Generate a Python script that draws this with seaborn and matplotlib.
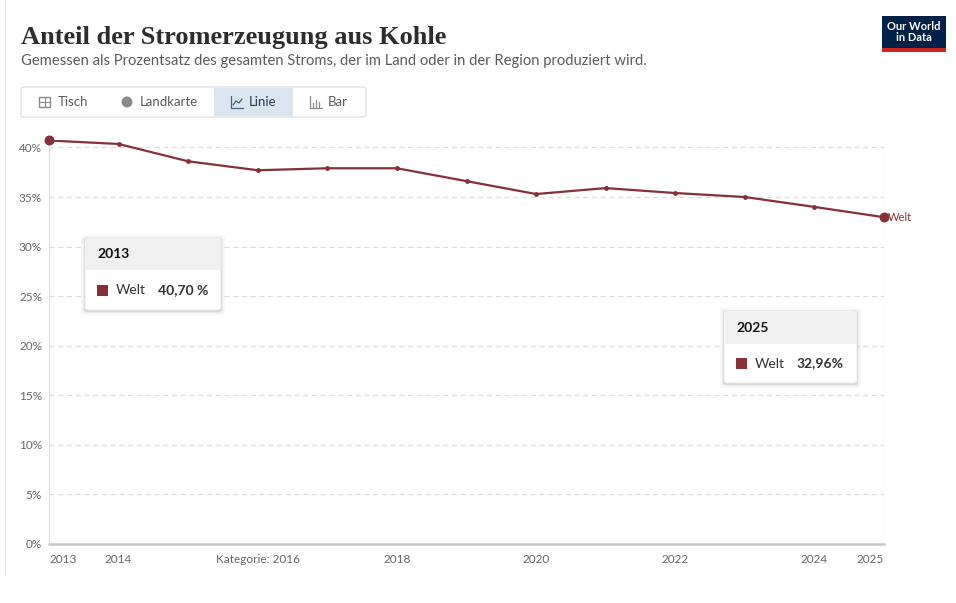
import pandas as pd
import matplotlib
matplotlib.use("Agg")
import matplotlib.pyplot as plt
import seaborn as sns
from matplotlib.patches import FancyBboxPatch, Rectangle, Ellipse

# data
years = [2013, 2014, 2015, 2016, 2017, 2018, 2019, 2020, 2021, 2022, 2023, 2024, 2025]
share = [40.70, 40.35, 38.6, 37.7, 37.9, 37.9, 36.6, 35.3, 35.9, 35.4, 35.0, 34.0, 32.96]
tick_years = [2013, 2014, 2016, 2018, 2020, 2022, 2024, 2025]
tick_labels = ["2013", "2014", "Kategorie: 2016", "2018", "2020", "2022", "2024", "2025"]
y_ticks = [0, 5, 10, 15, 20, 25, 30, 35, 40]

df = pd.DataFrame({"Jahr": years, "Anteil": share, "Region": "Welt"})

sns.set_style("white")
plt.rcParams["font.family"] = ["Lato", "DejaVu Sans"]

RED = "#883039"
W, H = 956, 603


def fx(px):
    return px / W


def fy(py):
    return 1 - py / H


fig = plt.figure(figsize=(9.56, 6.03), dpi=100)
ax = fig.add_axes([fx(49), fy(544), fx(884) - fx(49), fy(140) - fy(544)])

sns.lineplot(data=df, x="Jahr", y="Anteil", color=RED, lw=1.6, marker="o",
             markersize=3.5, markeredgewidth=0, ax=ax, legend=False)
# bigger end points
ends = df.iloc[[0, -1]]
ax.scatter(ends["Jahr"], ends["Anteil"], s=38, color=RED, zorder=5, clip_on=False)

ax.set_xlim(2013, 2025)
ax.set_ylim(0, 40.75)
ax.set_xlabel("")
ax.set_ylabel("")

ax.set_yticks(y_ticks)
ax.set_yticklabels([f"{v}%" for v in y_ticks], color="#666666", fontsize=8.5)
ax.tick_params(axis="y", length=0, pad=5)
for v in y_ticks[1:]:
    ax.axhline(v, color="#dddddd", lw=0.9, ls=(0, (4, 3)), zorder=0)

ax.set_xticks(tick_years)
ax.set_xticklabels(tick_labels, color="#666666", fontsize=8.5)
ax.tick_params(axis="x", length=4, width=0.8, color="#bbbbbb", pad=3)
xl = ax.get_xticklabels()
xl[0].set_ha("left")
xl[-1].set_ha("right")

for s in ["top", "right"]:
    ax.spines[s].set_visible(False)
ax.spines["bottom"].set_color("#c8c8c8")
ax.spines["bottom"].set_linewidth(1.8)
ax.spines["left"].set_color("#dddddd")
ax.spines["left"].set_linewidth(0.8)
ax.axvline(2025, color="#e4e4e4", lw=0.9, zorder=0)

ax.text(2025.05, share[-1], "Welt", color=RED, fontsize=8, va="center", ha="left")

# title and subtitle
fig.text(fx(21), fy(44), "Anteil der Stromerzeugung aus Kohle", fontsize=19,
         family=["Liberation Serif", "DejaVu Serif"], weight="bold", color="#2d2d2d")
fig.text(fx(21), fy(65), "Gemessen als Prozentsatz des gesamten Stroms, der im Land oder in der Region produziert wird.",
         fontsize=10.65, color="#5b5b5b")

# tab bar
fig.patches.append(FancyBboxPatch((fx(21), fy(117)), fx(366) - fx(21), fy(87) - fy(117),
                                  boxstyle="round,pad=0,rounding_size=0.004", transform=fig.transFigure,
                                  fc="white", ec="#dcdcdc", lw=0.8))
fig.patches.append(Rectangle((fx(214), fy(116)), fx(293) - fx(214), fy(88) - fy(116),
                             transform=fig.transFigure, fc="#dbe5f0", ec="none"))
tabs = [("Tisch", 58), ("Landkarte", 140), ("Linie", 249), ("Bar", 328)]
for name, px in tabs:
    fig.text(fx(px), fy(102), name, fontsize=9.5, va="center",
             color="#2d3a55" if name == "Linie" else "#5b5b5b")
# small icons
fig.patches.append(Rectangle((fx(39), fy(107)), fx(11), fy(97) - fy(107),
                             transform=fig.transFigure, fc="none", ec="#8a8a8a", lw=1))
fig.lines.append(plt.Line2D([fx(39), fx(50)], [fy(102), fy(102)], transform=fig.transFigure,
                            color="#8a8a8a", lw=0.8))
fig.lines.append(plt.Line2D([fx(44.5), fx(44.5)], [fy(97), fy(107)], transform=fig.transFigure,
                            color="#8a8a8a", lw=0.8))
fig.patches.append(Ellipse((fx(127), fy(102)), fx(11), fy(91) - fy(102), transform=fig.transFigure,
                           fc="#8a8a8a", ec="none"))
fig.lines.append(plt.Line2D([fx(231), fx(231), fx(243)], [fy(96), fy(108), fy(108)],
                            transform=fig.transFigure, color="#4a5f85", lw=0.9))
fig.lines.append(plt.Line2D([fx(233), fx(236), fx(239), fx(242)], [fy(105), fy(101), fy(103), fy(99)],
                            transform=fig.transFigure, color="#4a5f85", lw=0.9))
fig.lines.append(plt.Line2D([fx(310), fx(310), fx(322)], [fy(96), fy(108), fy(108)],
                            transform=fig.transFigure, color="#8a8a8a", lw=0.9))
for bx, bh in [(313, 4), (316, 7), (319, 5)]:
    fig.lines.append(plt.Line2D([fx(bx), fx(bx)], [fy(107), fy(107 - bh)],
                                transform=fig.transFigure, color="#8a8a8a", lw=0.9))


def tooltip(x0, y0, x1, y1, head, year, value, vx):
    for i, a in [(4, 0.03), (2, 0.05), (1, 0.07)]:
        fig.patches.append(FancyBboxPatch((fx(x0 - i), fy(y1 + i + 1)), fx(x1 - x0 + 2 * i), fy(y0) - fy(y1 + 2 * i),
                                          boxstyle="round,pad=0,rounding_size=0.004",
                                          transform=fig.transFigure, fc="black", ec="none", alpha=a))
    fig.patches.append(FancyBboxPatch((fx(x0), fy(y1)), fx(x1 - x0), fy(y0) - fy(y1),
                                      boxstyle="round,pad=0,rounding_size=0.004",
                                      transform=fig.transFigure, fc="white", ec="#e6e6e6", lw=0.6))
    fig.patches.append(Rectangle((fx(x0 + 0.5), fy(head)), fx(x1 - x0 - 1), fy(y0 + 0.5) - fy(head),
                                 transform=fig.transFigure, fc="#f0f0f0", ec="none"))
    fig.text(fx(x0 + 12), fy((y0 + head) / 2), year, fontsize=10, weight="bold",
             color="#111111", va="center")
    my = (head + y1) / 2
    fig.patches.append(Rectangle((fx(x0 + 12), fy(my + 5.5)), fx(11), fy(my - 5.5) - fy(my + 5.5),
                                 transform=fig.transFigure, fc=RED, ec="none"))
    fig.text(fx(x0 + 31), fy(my), "Welt", fontsize=10, color="#333333", va="center")
    fig.text(fx(vx), fy(my), value, fontsize=10, weight="bold", color="#333333", va="center")


tooltip(85, 238, 221, 310, 270, "2013", "40,70 %", 158)
tooltip(724, 311, 857, 383, 344, "2025", "32,96%", 797)

# logo
fig.patches.append(Rectangle((fx(882), fy(52)), fx(64), fy(16) - fy(52),
                             transform=fig.transFigure, fc="#002147", ec="none"))
fig.patches.append(Rectangle((fx(882), fy(52)), fx(64), fy(48.5) - fy(52),
                             transform=fig.transFigure, fc="#ce261e", ec="none"))
fig.text(fx(914), fy(32), "Our World\nin Data", fontsize=8, weight="bold", color="white",
         ha="center", va="center", linespacing=0.95)

# page edge
fig.lines.append(plt.Line2D([fx(4.5), fx(4.5)], [fy(0), fy(575)], transform=fig.transFigure,
                            color="#eeeeee", lw=0.8))

fig.savefig("out.png", dpi=100)
